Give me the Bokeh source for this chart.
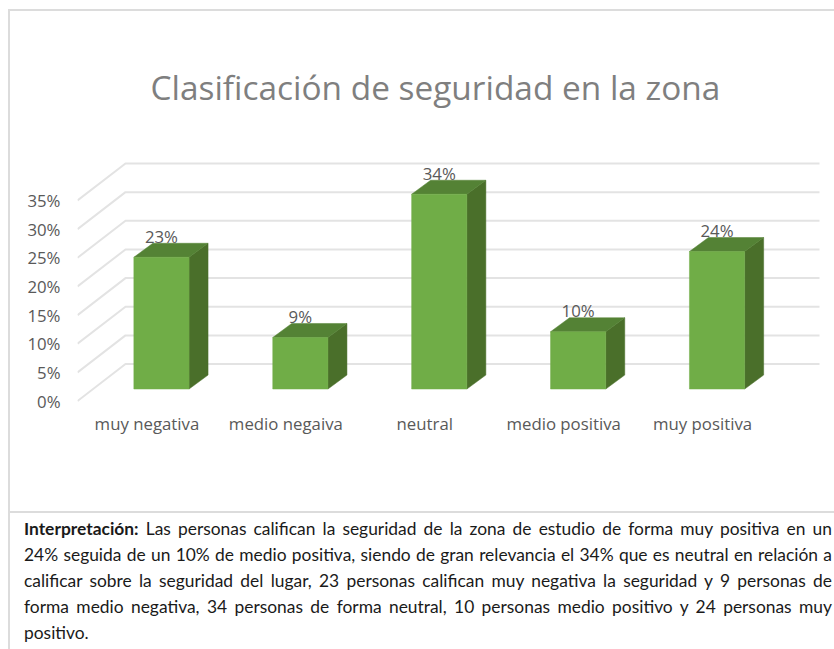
from bokeh.plotting import figure
from bokeh.layouts import column
from bokeh.models import (Title, FixedTicker, Range1d, LinearAxis, Div)
from bokeh.core.properties import value
from bokeh.embed import file_html
from bokeh.resources import INLINE

categories = ["muy negativa", "medio negaiva", "neutral", "medio positiva", "muy positiva"]
percent = [23, 9, 34, 10, 24]
ticks = [0, 5, 10, 15, 20, 25, 30, 35]
title_text = "Clasificación de seguridad en la zona"
para_head = "Interpretación:"
para_lines = [
    "Las personas califican la seguridad de la zona de estudio de forma muy positiva en un",
    "24% seguida de un 10% de medio positiva, siendo de gran relevancia el 34% que es neutral en relación a",
    "calificar sobre la seguridad del lugar, 23 personas califican muy negativa la seguridad y 9 personas de",
    "forma medio negativa, 34 personas de forma neutral, 10 personas medio positivo y 24 personas muy",
    "positivo.",
]

FONT = "Open Sans"
TXT = "#595959"
PX_X = 138.9   # pixels per category
PX_Y = 5.73    # pixels per percent
ux = lambda px: px / PX_X
uy = lambda px: px / PX_Y

p = figure(width=834, height=512, output_backend="svg", toolbar_location=None,
           x_range=Range1d(-0.5, -0.5 + 743 / PX_X), y_range=Range1d(-2, -2 + 262 / PX_Y),
           x_axis_type=None, y_axis_type=None,
           min_border_left=77, min_border_right=14, min_border_top=150, min_border_bottom=100)
p.outline_line_color = None
p.grid.visible = False

p.title = Title(text=title_text, align="left", offset=73, standoff=82,
                text_font=FONT, text_font_size="33.4px", text_font_style="normal", text_color="#7f7f7f")

yaxis = LinearAxis(ticker=FixedTicker(ticks=ticks),
                   major_label_overrides={t: f"{t}%" for t in ticks})
xaxis = LinearAxis(ticker=FixedTicker(ticks=list(range(len(categories)))),
                   major_label_overrides={i: c for i, c in enumerate(categories)})
for ax in (xaxis, yaxis):
    ax.axis_line_color = None
    ax.major_tick_line_color = None
    ax.minor_tick_line_color = None
    ax.major_label_text_font = FONT
    ax.major_label_text_font_size = "16.8px"
    ax.major_label_text_color = TXT
yaxis.major_label_standoff = 11
xaxis.major_label_standoff = -7
p.add_layout(yaxis, "left")
p.add_layout(xaxis, "below")

x0, x1, x2 = -0.5, -0.5 + ux(48), -0.5 + ux(742)
dy = uy(37)
p.multi_line([[x0, x1, x2] for _ in ticks], [[t, t + dy, t + dy] for t in ticks],
             line_color="#e3e3e3", line_width=2)

base = uy(12)
half = ux(27.6)
shift = ux(14.5)
ddx, ddy = ux(19), uy(14)
for i, v in enumerate(percent):
    l, r = i + shift - half, i + shift + half
    bot = base
    top = v + base
    p.patch([r, r + ddx, r + ddx, r], [bot, bot + ddy, top + ddy, top], fill_color="#4a6f2a", line_color="#4a6f2a", line_width=0.5)
    p.patch([l, l + ddx, r + ddx, r], [top, top + ddy, top + ddy, top], fill_color="#548235", line_color="#548235", line_width=0.5)
    p.quad(left=l, right=r, bottom=bot, top=top, fill_color="#70ad47", line_color="#70ad47", line_width=0.5)
    p.text([i + shift], [top + ddy + uy(7)], text=[f"{v}%"], text_font=value(FONT), text_font_size="16.8px",
           text_color=TXT, text_align="center", text_baseline="middle")

rows = []
for i, line in enumerate(para_lines):
    txt = (f"<b>{para_head}</b> " if i == 0 else "") + line
    last = "left" if i == len(para_lines) - 1 else "justify"
    rows.append(f'<div style="text-align:justify;text-align-last:{last};white-space:nowrap;width:808px">{txt}</div>')
frame = ('<div style="position:absolute;left:8px;top:-507px;width:826px;height:504px;box-sizing:border-box;'
         'border-top:2px solid #dcdcdc;border-left:2px solid #dcdcdc;border-bottom:2px solid #dcdcdc"></div>'
         '<div style="position:absolute;left:8px;top:-3px;width:2px;height:140px;background:#dcdcdc"></div>')
div = Div(text=frame + "".join(rows), width=834, height=133,
          styles={"font-family": "Lato", "font-size": "17.4px", "line-height": "26px", "color": "#1a1a1a",
                  "padding-left": "24px", "box-sizing": "border-box"},
          margin=(0, 0, 0, 0))
p.margin = (0, 0, 0, 0)

page = column(p, div, spacing=4)
open("out.html", "w").write(file_html(page, INLINE))
